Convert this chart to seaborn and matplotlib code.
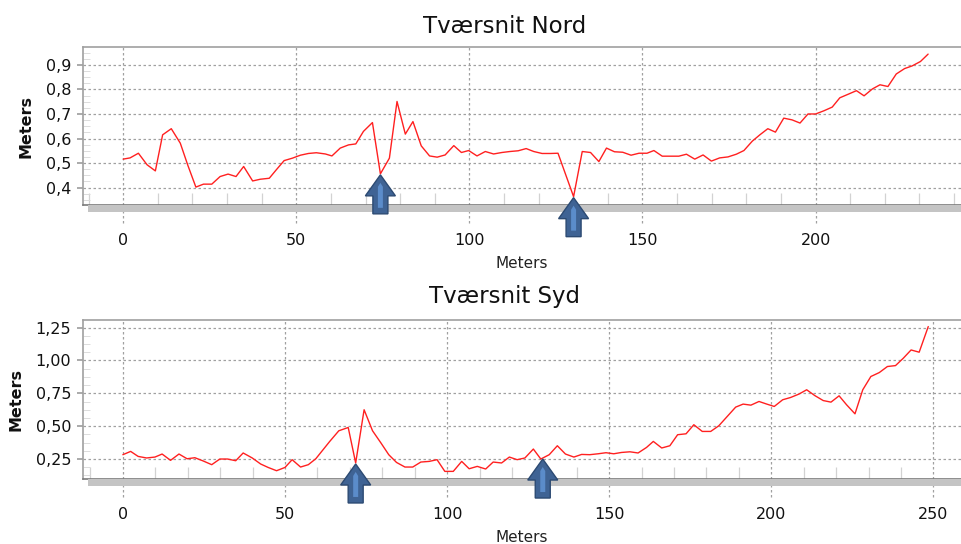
import numpy as np
import pandas as pd
import matplotlib
matplotlib.use('Agg')
import matplotlib.pyplot as plt
import matplotlib.transforms as mtransforms
from matplotlib.patches import Polygon, Rectangle
from matplotlib.ticker import FuncFormatter, MultipleLocator
import seaborn as sns

# Tværsnit Nord: afstand (m) og højde (m)
nord_x = [0, 2, 4.4, 6.9, 9.3, 11.4, 13.9, 16.5, 18.7, 21,
          23.2, 25.6, 28, 30.3, 32.6, 34.8, 37.4, 39.6, 42.2, 44.2,
          46.5, 48.9, 51.2, 53.5, 55.8, 58.4, 60.3, 62.7, 65.1, 67.2,
          69.4, 72, 74.3, 76.9, 79.1, 81.5, 83.7, 86.1, 88.5, 90.7,
          93, 95.5, 97.7, 99.8, 102.2, 104.6, 107, 109.4, 111.7, 114.1,
          116.4, 118.6, 121, 123.4, 125.6, 130.1, 132.6, 135, 137.4, 139.6,
          141.9, 144.3, 146.7, 149, 151.3, 153.3, 155.7, 158.1, 160.5, 162.7,
          165.1, 167.5, 169.9, 172.3, 174.7, 177.1, 179.3, 181.7, 183.9, 186.2,
          188.4, 190.8, 193.2, 195.5, 197.8, 200, 202.4, 204.8, 207, 209.5,
          211.8, 214, 216.4, 218.6, 220.9, 223.3, 225.7, 227.9, 230.3, 232.5]
nord_y = [0.516, 0.521, 0.54, 0.493, 0.468, 0.615, 0.64, 0.581, 0.49, 0.402,
          0.414, 0.414, 0.445, 0.455, 0.445, 0.486, 0.427, 0.434, 0.438, 0.472,
          0.51, 0.52, 0.532, 0.539, 0.542, 0.537, 0.529, 0.561, 0.574, 0.578,
          0.629, 0.665, 0.456, 0.52, 0.751, 0.618, 0.669, 0.57, 0.529, 0.524,
          0.533, 0.571, 0.543, 0.551, 0.529, 0.547, 0.537, 0.543, 0.547, 0.55,
          0.559, 0.547, 0.539, 0.539, 0.54, 0.363, 0.547, 0.543, 0.506, 0.561,
          0.546, 0.544, 0.532, 0.54, 0.54, 0.551, 0.528, 0.528, 0.528, 0.536,
          0.516, 0.533, 0.508, 0.521, 0.525, 0.536, 0.551, 0.589, 0.615, 0.64,
          0.626, 0.683, 0.676, 0.663, 0.7, 0.7, 0.713, 0.728, 0.766, 0.781,
          0.795, 0.774, 0.802, 0.819, 0.812, 0.863, 0.885, 0.896, 0.914, 0.944]

# Tværsnit Syd
syd_x = [0, 2.4, 4.7, 7.3, 9.9, 12.1, 14.7, 17.3, 19.8, 22.2,
         24.8, 27.4, 29.9, 32.3, 34.8, 37.1, 39.9, 42.5, 44.8, 47.4,
         50, 52.2, 54.8, 57.2, 59.5, 63.8, 66.6, 69.5, 71.8, 74.4,
         77, 79.6, 82, 84.4, 87, 89.4, 91.9, 94.5, 96.9, 99.3,
         101.9, 104.5, 106.8, 109.3, 111.9, 114.2, 116.8, 119.2, 121.6, 124,
         126.6, 128.9, 131.5, 134, 136.5, 139.1, 141.5, 144, 146.6, 149,
         151.4, 153.8, 156.4, 158.9, 161.5, 163.6, 166.2, 168.7, 171.1, 173.7,
         176.1, 178.7, 181.3, 183.8, 186.4, 189, 191.3, 193.7, 196.2, 198.6,
         200.9, 203.5, 205.9, 208.5, 210.9, 213.4, 216, 218.4, 220.9, 223.2,
         225.8, 228.2, 230.7, 233.3, 235.8, 238.3, 240.7, 243.1, 245.6, 248.4]
syd_y = [0.283, 0.308, 0.27, 0.258, 0.265, 0.288, 0.24, 0.288, 0.252, 0.26,
         0.235, 0.207, 0.25, 0.25, 0.237, 0.296, 0.258, 0.212, 0.186, 0.161,
         0.186, 0.245, 0.189, 0.207, 0.252, 0.384, 0.465, 0.49, 0.22, 0.625,
         0.465, 0.372, 0.283, 0.224, 0.189, 0.189, 0.227, 0.232, 0.245, 0.156,
         0.156, 0.232, 0.176, 0.194, 0.174, 0.227, 0.22, 0.265, 0.245, 0.258,
         0.326, 0.25, 0.283, 0.351, 0.288, 0.265, 0.285, 0.283, 0.29, 0.298,
         0.29, 0.3, 0.305, 0.296, 0.338, 0.384, 0.334, 0.351, 0.435, 0.442,
         0.511, 0.46, 0.46, 0.503, 0.574, 0.645, 0.668, 0.66, 0.688, 0.668,
         0.65, 0.701, 0.718, 0.744, 0.777, 0.733, 0.695, 0.683, 0.731, 0.663,
         0.594, 0.777, 0.878, 0.908, 0.954, 0.961, 1.017, 1.08, 1.063, 1.258]

# pile markerer lavpunkterne
nord_arrows = [74.3, 130.1]
syd_arrows = [71.8, 129.5]

sns.set_theme(style='white')
plt.rcParams['font.family'] = ['DejaVu Sans']

fig = plt.figure(figsize=(9.61, 5.44), dpi=100)
ax_n = fig.add_axes([83 / 961, 1 - 205 / 544, 878 / 961, 158 / 544])
ax_s = fig.add_axes([83 / 961, 1 - 479 / 544, 878 / 961, 159 / 544])

GRID = '#a0a0a0'


def comma(dec):
    return FuncFormatter(lambda v, p: f'{v:.{dec}f}'.replace('.', ','))


def draw_arrow(ax, x, y):
    # form i pixels (1 px = 0.01 tomme ved 100 dpi), spids i datapunktet
    trans = fig.dpi_scale_trans + mtransforms.ScaledTranslation(x, y, ax.transData)
    outer = np.array([(0, 0), (15, -21), (7.5, -21), (7.5, -39), (-7.5, -39),
                      (-7.5, -21), (-15, -21)]) / 100 - [0, 0.01]
    inner = np.array([(0, -9), (2.5, -13), (2.5, -34), (-2.5, -34), (-2.5, -13)]) / 100
    ax.add_patch(Polygon(outer, closed=True, transform=trans, facecolor='#3f6394',
                         edgecolor='#2c4a72', lw=1, clip_on=False, zorder=6))
    ax.add_patch(Polygon(inner, closed=True, transform=trans, facecolor='#5b8cca',
                         edgecolor='none', clip_on=False, zorder=7))


def style_axes(ax, xs, ys, xlim, ylim, yticks, ymin_step, dec, title, title_pad, arrows):
    df = pd.DataFrame({'m': xs, 'h': ys})
    sns.lineplot(data=df, x='m', y='h', ax=ax, color='#ff2020', linewidth=1.0,
                 sort=False, estimator=None, zorder=4)
    ax.set_xlim(*xlim)
    ax.set_ylim(*ylim)
    ax.set_xticks(np.arange(0, xlim[1], 50))
    ax.xaxis.set_minor_locator(MultipleLocator(10))
    ax.set_yticks(yticks)
    ax.yaxis.set_minor_locator(MultipleLocator(ymin_step))
    ax.yaxis.set_major_formatter(comma(dec))
    ax.grid(True, which='major', color=GRID, linestyle=(0, (2, 2)), linewidth=0.9)
    ax.tick_params(axis='x', which='major', bottom=True, length=13, color=(0, 0, 0, 0),
                   pad=7, labelsize=11.5, labelcolor='#111111')
    ax.tick_params(axis='x', which='minor', bottom=True, direction='in', length=9,
                   color='#d2d2d2', width=0.9)
    ax.tick_params(axis='y', which='major', left=True, direction='out', length=4.5,
                   color=GRID, pad=4, labelsize=11.5, labelcolor='#111111')
    ax.tick_params(axis='y', which='minor', left=True, direction='in', length=5,
                   color='#dcdcdc', width=0.7)
    for side in ['top', 'left']:
        ax.spines[side].set_color('#a0a0a0')
        ax.spines[side].set_linewidth(1.2)
    ax.spines['right'].set_visible(False)
    ax.spines['bottom'].set_color('#7a7a7a')
    ax.spines['bottom'].set_linewidth(1.2)

    # gulv under plotfeltet
    h_px = ax.get_position().height * 544
    ax.add_patch(Rectangle((5 / 878, -7 / h_px), 1, 7 / h_px, transform=ax.transAxes,
                           facecolor='#c4c4c4', edgecolor='none', clip_on=False, zorder=3))
    # stiplede forlængelser af hovedakserne under gulvet
    blend = mtransforms.blended_transform_factory(ax.transData, ax.transAxes)
    ax.vlines(ax.get_xticks(), -18 / h_px, 0, transform=blend, colors=GRID,
              linestyles=(0, (2, 2)), linewidth=0.9, clip_on=False, zorder=2)

    ax.set_title(title, fontsize=16.5, pad=title_pad, x=0.48, color='#111111')
    ax.set_xlabel('Meters', fontsize=11, labelpad=6, color='#222222')
    ax.set_ylabel('Meters', fontsize=11.5, fontweight='bold', labelpad=9, color='#111111')

    for ax_x in arrows:
        draw_arrow(ax, ax_x, np.interp(ax_x, xs, ys))


style_axes(ax_n, nord_x, nord_y, (-11.6, 242), (0.329, 0.973),
           [0.4, 0.5, 0.6, 0.7, 0.8, 0.9], 0.025, 1, 'Tværsnit Nord', 10, nord_arrows)
style_axes(ax_s, syd_x, syd_y, (-12.3, 258.5), (0.098, 1.308),
           [0.25, 0.5, 0.75, 1.0, 1.25], 0.0625, 2, 'Tværsnit Syd', 12, syd_arrows)

fig.savefig('out.png', dpi=100)
plt.close(fig)
